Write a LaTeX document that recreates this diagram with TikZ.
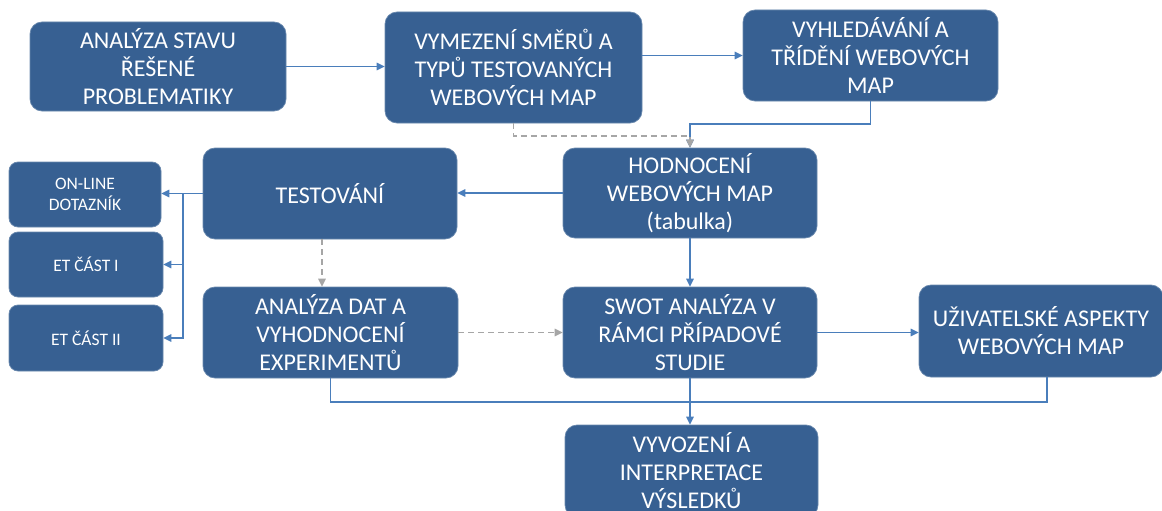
\documentclass[tikz,border=0pt]{standalone}
\usepackage{fontspec}
\setmainfont{Carlito}
\usetikzlibrary{arrows.meta}
\definecolor{boxfill}{RGB}{55,96,146}
\definecolor{linkblue}{RGB}{74,126,187}
\definecolor{linkgray}{RGB}{166,166,166}
\begin{document}
\begin{tikzpicture}[x=1pt,y=-1pt,
  stepbox/.style={draw=boxfill!75!white, line width=0.7pt, fill=boxfill,
    rounded corners=12pt, text=white, align=center, inner sep=0pt,
    font=\fontsize{24}{28}\selectfont},
  smallbox/.style={stepbox, rounded corners=9pt, font=\fontsize{17.5}{21.5}\selectfont},
  tip/.style={-{Triangle[length=8pt,width=7.5pt]}},
  flow/.style={draw=linkblue, line width=1.3pt, tip},
  plainflow/.style={draw=linkblue, line width=1.3pt},
  ghost/.style={draw=linkgray, line width=1.3pt, dash pattern=on 6pt off 4pt, tip},
]
\clip (0,0) rectangle (1162,511);
\fill[white] (0,0) rectangle (1162,511);

% top row
\node[stepbox, minimum width=256pt, minimum height=89pt] (a1) at (158,66.5)
  {ANALÝZA STAVU\\ŘEŠENÉ\\PROBLEMATIKY};
\node[stepbox, minimum width=257pt, minimum height=111pt] (a2) at (513.5,67.5)
  {VYMEZENÍ SMĚRŮ A\\TYPŮ TESTOVANÝCH\\WEBOVÝCH MAP};
\node[stepbox, minimum width=255pt, minimum height=91pt] (a3) at (870.5,55.5)
  {VYHLEDÁVÁNÍ A\\TŘÍDĚNÍ WEBOVÝCH\\MAP};

% middle row
\node[stepbox, minimum width=254pt, minimum height=90pt] (hod) at (690,193)
  {HODNOCENÍ\\WEBOVÝCH MAP\\(tabulka)};
\node[stepbox, minimum width=254pt, minimum height=91pt] (test) at (330,193.5)
  {TESTOVÁNÍ};
\node[smallbox, minimum width=152pt, minimum height=65pt] (on) at (85,194.5)
  {ON-LINE\\DOTAZNÍK};
\node[smallbox, minimum width=154pt, minimum height=65pt] (et1) at (86,264.5)
  {ET ČÁST I};
\node[smallbox, minimum width=154pt, minimum height=66pt] (et2) at (86,338)
  {ET ČÁST II};

% lower rows
\node[stepbox, minimum width=255pt, minimum height=91pt] (dat) at (330.5,332.5)
  {ANALÝZA DAT A\\VYHODNOCENÍ\\EXPERIMENTŮ};
\node[stepbox, minimum width=254pt, minimum height=91pt] (swot) at (690,332.5)
  {SWOT ANALÝZA V\\RÁMCI PŘÍPADOVÉ\\STUDIE};
\node[stepbox, minimum width=244pt, minimum height=92pt] (uziv) at (1041,331)
  {UŽIVATELSKÉ ASPEKTY\\WEBOVÝCH MAP};
\node[stepbox, minimum width=253pt, minimum height=92pt] (vyv) at (691.5,471)
  {VYVOZENÍ A\\INTERPRETACE\\VÝSLEDKŮ};

% junction points
\coordinate (bj) at (690,124);
\coordinate (dj) at (690,136);
\coordinate (lb) at (183,193.5);
\coordinate (mj) at (691,402);

% connectors
\draw[flow] (a1.east) -- (a1.east -| a2.west);
\draw[flow] (a2.east |- a3.west) -- (a3.west);
\draw[flow] (a3.south) |- (bj) -- (hod.north);
\draw[ghost] (a2.south) |- (dj) -- (hod.north);
\draw[flow] (hod.west) -- (hod.west -| test.east);
\draw[flow] (test.west) -- (test.west -| on.east);
\draw[flow] (lb) |- (et1.east);
\draw[flow] (lb) |- (et2.east);
\draw[ghost] ([xshift=-8pt]test.south) -- ([xshift=-8pt]test.south |- dat.north);
\draw[ghost] (dat.east) -- (swot.west);
\draw[flow] (hod.south) -- (swot.north);
\draw[flow] (swot.east) -- (swot.east -| uziv.west);
\draw[plainflow] (dat.south) |- (mj);
\draw[plainflow] ([xshift=6pt]uziv.south) |- (mj);
\draw[flow] (swot.south) -- (swot.south |- vyv.north);
\end{tikzpicture}
\end{document}
